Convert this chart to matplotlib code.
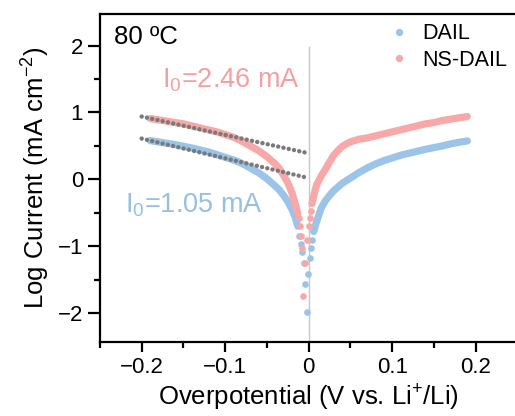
import matplotlib
matplotlib.use('Agg')
import matplotlib.pyplot as plt

plt.rcParams['font.family'] = ['Liberation Sans', 'DejaVu Sans']
plt.rcParams['mathtext.fontset'] = 'custom'
plt.rcParams['mathtext.rm'] = 'Liberation Sans'
plt.rcParams['mathtext.it'] = 'Liberation Sans'

blue = '#9bc4e8'
pink = '#f8a8a8'

# DAIL, dense part of each branch
dail_neg_v = [-0.19, -0.18, -0.17, -0.16, -0.15, -0.14, -0.13, -0.12, -0.11, -0.10, -0.09,
              -0.08, -0.07, -0.06, -0.05, -0.04, -0.035, -0.03, -0.025, -0.02, -0.016, -0.013]
dail_neg_i = [0.58, 0.56, 0.54, 0.52, 0.495, 0.47, 0.44, 0.41, 0.37, 0.33, 0.29,
              0.24, 0.17, 0.10, 0.01, -0.10, -0.16, -0.24, -0.33, -0.45, -0.57, -0.70]
dail_pos_v = [0.006, 0.009, 0.012, 0.015, 0.02, 0.025, 0.03, 0.04, 0.05, 0.06, 0.07, 0.08,
              0.09, 0.10, 0.11, 0.12, 0.13, 0.14, 0.15, 0.16, 0.17, 0.18, 0.19]
dail_pos_i = [-0.78, -0.65, -0.54, -0.43, -0.32, -0.24, -0.17, -0.06, 0.02, 0.10, 0.17, 0.23,
              0.28, 0.32, 0.36, 0.39, 0.42, 0.45, 0.475, 0.50, 0.53, 0.555, 0.575]
# DAIL, scattered points close to zero overpotential
dail_mid_v = [-0.011, -0.009, -0.0075, -0.006, -0.004, -0.002, -0.0005, 0.0015, 0.003, 0.004]
dail_mid_i = [-0.84, -0.97, -1.08, -1.25, -1.56, -1.98, -1.41, -1.17, -1.02, -0.90]

# NS-DAIL
ns_neg_v = [-0.19, -0.18, -0.17, -0.16, -0.15, -0.14, -0.13, -0.12, -0.11, -0.10, -0.09,
            -0.08, -0.07, -0.06, -0.05, -0.04, -0.035, -0.03, -0.025, -0.02, -0.016, -0.013]
ns_neg_i = [0.91, 0.89, 0.87, 0.85, 0.83, 0.80, 0.77, 0.74, 0.71, 0.67, 0.63,
            0.57, 0.50, 0.43, 0.34, 0.23, 0.16, 0.06, -0.05, -0.20, -0.37, -0.51]
ns_pos_v = [0.004, 0.006, 0.008, 0.01, 0.015, 0.02, 0.025, 0.03, 0.035, 0.04, 0.045, 0.05,
            0.055, 0.06, 0.07, 0.08, 0.09, 0.10, 0.11, 0.12, 0.13, 0.14, 0.15, 0.16, 0.17,
            0.18, 0.19]
ns_pos_i = [-0.36, -0.25, -0.15, -0.07, 0.05, 0.15, 0.26, 0.36, 0.43, 0.49, 0.53, 0.56,
            0.58, 0.60, 0.62, 0.65, 0.68, 0.71, 0.74, 0.77, 0.80, 0.83, 0.85, 0.88, 0.90,
            0.92, 0.94]
ns_mid_v = [-0.0115, -0.010, -0.0092, -0.0075, -0.0048, -0.0062, -0.002, 0.0, 0.0015, 0.0025]
ns_mid_i = [-0.58, -0.70, -0.85, -1.03, -1.25, -1.75, -0.90, -0.70, -0.58, -0.48]

# Tafel fits, extrapolated to log(i0) at zero overpotential
fit_v = [-0.2, 0.0]
fit_dail = [0.61, 0.02]
fit_ns = [0.94, 0.39]

fig = plt.figure(figsize=(5.15, 4.16), dpi=100)
ax = fig.add_axes([0.194, 0.178, 0.8107, 0.788])

ax.vlines(0, -2.43, 2.0, color='#c8c8c8', lw=1.0, zorder=1)

# the measured points sit so close together that they merge into a band
for v, i, c in [(dail_neg_v, dail_neg_i, blue), (dail_pos_v, dail_pos_i, blue),
                (ns_neg_v, ns_neg_i, pink), (ns_pos_v, ns_pos_i, pink)]:
    ax.plot(v, i, color=c, lw=5.2, solid_capstyle='round', solid_joinstyle='round', zorder=2)
ax.plot(dail_mid_v, dail_mid_i, 'o', color=blue, ms=4.8, mew=0, zorder=2, label='DAIL')
ax.plot(ns_mid_v, ns_mid_i, 'o', color=pink, ms=4.8, mew=0, zorder=2, label='NS-DAIL')

for f in [fit_dail, fit_ns]:
    ax.plot(fit_v, f, color='#7a7a7a', lw=3.2, ls=(0, (0.01, 1.2)),
            dash_capstyle='round', zorder=3)

ax.text(-0.2335, 2.02, '80 ºC', fontsize=18.5, va='baseline')
ax.text(-0.1756, 1.377, r'I$_0$=2.46 mA', color='#f4a0a0', fontsize=19.5, va='baseline')
ax.text(-0.2195, -0.494, r'I$_0$=1.05 mA', color='#96bfe3', fontsize=19.5, va='baseline')

ax.legend(loc='upper left', bbox_to_anchor=(0.695, 0.972), frameon=False, fontsize=15.5,
          handlelength=0.8, handletextpad=0.7, labelspacing=0.25, borderpad=0,
          borderaxespad=0, markerscale=1.1)

ax.set_xlim(-0.25, 0.25)
ax.set_ylim(-2.43, 2.47)
ax.set_xticks([-0.2, -0.1, 0, 0.1, 0.2])
ax.set_xticklabels(['\u22120.2', '\u22120.1', '0', '0.1', '0.2'])
ax.set_yticks([-2, -1, 0, 1, 2])
ax.set_yticklabels(['\u22122', '\u22121', '0', '1', '2'])
ax.set_xticks([-0.25, -0.15, -0.05, 0.05, 0.15, 0.25], minor=True)
ax.set_yticks([-1.5, -0.5, 0.5, 1.5], minor=True)

for s in ax.spines.values():
    s.set_linewidth(1.6)
ax.tick_params(which='major', direction='out', width=1.6, labelsize=16)
ax.tick_params(which='minor', direction='out', width=1.6, length=4)
ax.tick_params(axis='y', which='major', length=9, pad=3)
ax.tick_params(axis='x', which='major', length=7, pad=4)

ax.set_xlabel('Overpotential (V vs. Li$^{+}$/Li)', fontsize=18.5, labelpad=3)
ax.set_ylabel('Log Current (mA cm$^{-2}$)', fontsize=18.5, labelpad=4)

plt.savefig('out.png', dpi=100)
plt.close()
